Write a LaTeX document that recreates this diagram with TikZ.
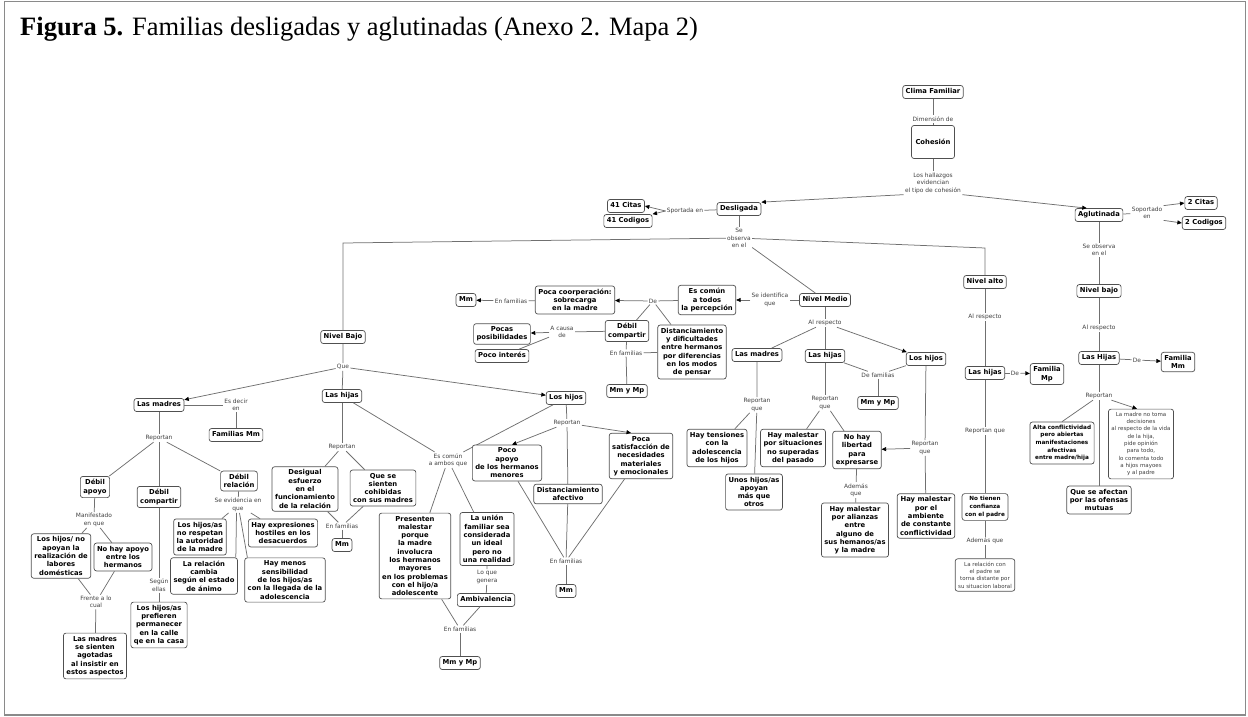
\documentclass[tikz,border=0pt]{standalone}
\usepackage{fontspec}
\setmainfont{Liberation Serif}
\newfontfamily\dvs{DejaVu Sans}
\usetikzlibrary{arrows.meta,calc}
\definecolor{boxc}{HTML}{505050}
\definecolor{linec}{HTML}{707070}
\definecolor{labc}{HTML}{404040}
\definecolor{framec}{HTML}{8A8A8A}
\tikzset{
 box/.style={draw=boxc, line width=0.7pt, rounded corners=2.5pt, fill=white, align=center,
   inner xsep=3pt, inner ysep=3pt, text=black, font=\dvs\bfseries\fontsize{6.8}{8.3}\selectfont},
 one/.style={box, text height=5.4pt, text depth=1.6pt},
 sbox/.style={box, font=\dvs\bfseries\fontsize{5.7}{7.6}\selectfont},
 rbox/.style={box, text=labc, font=\dvs\fontsize{5.5}{7.3}\selectfont},
 lbl/.style={font=\dvs\fontsize{5.9}{7.4}\selectfont, text=labc, align=center, inner sep=1.2pt},
 ln/.style={draw=linec, line width=0.75pt},
 ar/.style={ln, -{Triangle[length=4.5pt,width=4pt,color=black]}}
}
\begin{document}
\begin{tikzpicture}[x=1pt,y=-1pt]
\useasboundingbox (0,0) rectangle (1248,717);
\draw[framec, line width=1.6pt] (4.5,1.5) rectangle (1245.5,715);
\node[anchor=base west, inner sep=0, font=\fontsize{26.5}{30}\selectfont] (title) at (20,36)
  {\textbf{Figura 5.} Familias desligadas y aglutinadas (Anexo 2. Mapa 2)};

% ---------- top
\node[one] (clima) at (933,92) {Clima Familiar};
\node[lbl] (l_dim) at (933,119) {Dimensión de};
\node[box, minimum width=43pt, minimum height=33pt] (coh) at (933,142) {Cohesión};
\node[lbl] (l_hall) at (933,183) {Los hallazgos\\evidencian\\el tipo de cohesión};
\node[one] (desl) at (739,209) {Desligada};
\node[one] (aglu) at (1099,215) {Aglutinada};
\draw[ln] (clima) -- (l_dim) -- (coh) -- (l_hall);
\draw[ar] (l_hall.south west) -- (desl.north east);
\draw[ar] (l_hall.south east) -- ($(aglu.north west)+(12,0)$);

% Desligada supports
\node[lbl] (l_sport) at (685,211) {Sportada en};
\node[one] (cit41) at (626,206) {41 Citas};
\node[one] (cod41) at (628,221) {41 Codigos};
\draw[ln] (desl) -- (l_sport);
\draw[ar] (l_sport.west) -- (cit41.east);
\draw[ar] (l_sport.west) -- (cod41.north east);

% Aglutinada
\node[lbl] (l_sop) at (1147,213) {Soportado\\en};
\node[one] (cit2) at (1201,203) {2 Citas};
\node[one] (cod2) at (1204,223) {2 Codigos};
\draw[ln] (aglu) -- (l_sop);
\draw[ar] (l_sop.north east) -- (cit2.west);
\draw[ar] (l_sop.south east) -- (cod2.west);
\node[lbl] (l_seob2) at (1099,250) {Se observa\\en el};
\node[one] (nbajo2) at (1099,291) {Nivel bajo};
\node[lbl] (l_alr2) at (1099,328) {Al respecto};
\node[one] (hijas2) at (1099,358) {Las Hijas};
\node[lbl] (l_de2) at (1137,360) {De};
\node[box] (fmm2) at (1178,362) {Familia\\Mm};
\draw[ln] (aglu) -- (l_seob2) -- (nbajo2) -- (l_alr2) -- (hijas2);
\draw[ln] (hijas2) -- (l_de2);
\draw[ar] (l_de2) -- (fmm2);
\node[lbl] (l_rep2) at (1099,396) {Reportan};
\node[sbox] (alta) at (1062,443) {Alta conflictividad\\pero abiertas\\manifestaciones\\afectivas\\entre madre/hija};
\node[rbox] (madreno) at (1141,444) {La madre no toma\\decisiones\\al respecto de la vida\\de la hija,\\pide opinión\\para todo,\\lo comenta todo\\a hijos mayoes\\y al padre};
\node[box] (afectan) at (1099,500) {Que se afectan\\por las ofensas\\mutuas};
\draw[ln] (hijas2) -- (l_rep2) -- (afectan);
\draw[ln] (l_rep2) -- (alta.north);
\draw[ar] (l_rep2) -- ($(madreno.north)+(-4,0)$);

% Se observa (Desligada)
\node[lbl] (l_seob1) at (739,238) {Se\\observa\\en el};
\coordinate (cbajo) at (343,243);
\coordinate (calto) at (985,248);
\node[one] (nbajo1) at (343,337) {Nivel Bajo};
\node[one] (nmedio) at (825,300) {Nivel Medio};
\node[one] (nalto) at (985,282) {Nivel alto};
\draw[ln] (desl) -- (l_seob1);
\draw[ln] (l_seob1) -- (cbajo) -- (nbajo1);
\draw[ln] (l_seob1) -- (calto) -- (nalto);
\draw[ln] (l_seob1) -- (nmedio);

% Nivel alto
\node[lbl] (l_alr1) at (985,317) {Al respecto};
\node[one] (hijas1) at (985,373) {Las hijas};
\node[lbl] (l_de1) at (1015,373) {De};
\node[box] (fmp1) at (1047,374) {Familia\\Mp};
\node[lbl] (l_repq1) at (985,431) {Reportan que};
\node[sbox] (confi) at (985,507) {No tienen\\confianza\\con el padre};
\node[lbl] (l_adem1) at (985,541) {Además que};
\node[rbox] (relpadre) at (985,575) {La relación con\\el padre se\\torna distante por\\su situacion laboral};
\draw[ln] (nalto) -- (l_alr1) -- (hijas1);
\draw[ln] (hijas1) -- (l_de1);
\draw[ar] (l_de1) -- (fmp1);
\draw[ln] (hijas1) -- (l_repq1) -- (confi) -- (l_adem1) -- (relpadre);

% Nivel Medio
\node[lbl] (l_ident) at (770,300) {Se identifica\\que};
\node[box] (escomun) at (707,300) {Es común\\a todos\\la percepción};
\node[lbl] (l_de3) at (653,301) {De};
\node[box] (pococoop) at (575,300) {Poca coorperación:\\sobrecarga\\en la madre};
\node[lbl] (l_enf1) at (511,301) {En familias};
\node[one] (mm1) at (466,300) {Mm};
\node[box] (debcomp2) at (627,331) {Débil\\compartir};
\node[lbl] (l_causa) at (562,332) {A causa\\de};
\node[box] (pocas) at (502,334) {Pocas\\posibilidades};
\node[one] (pocoint) at (502,356) {Poco interés};
\node[lbl] (l_enf2) at (626,353) {En familias};
\node[one] (mmmp1) at (627,391) {Mm y Mp};
\node[box] (distan) at (692,352) {Distanciamiento\\y dificultades\\entre hermanos\\por diferencias\\en los modos\\de pensar};
\draw[ln] (nmedio) -- (l_ident);
\draw[ar] (l_ident) -- (escomun);
\draw[ln] (escomun) -- (l_de3);
\draw[ar] (l_de3) -- (pococoop);
\draw[ln] (l_de3) -- (debcomp2);
\draw[ln] (l_de3) -- (distan);
\draw[ln] (pococoop) -- (l_enf1);
\draw[ar] (l_enf1) -- (mm1);
\draw[ln] (debcomp2) -- (l_causa);
\draw[ar] (l_causa) -- (pocas);
\draw[ln] (l_causa) -- (pocoint);
\draw[ln] (debcomp2) -- (l_enf2) -- (mmmp1);
\draw[ln] (distan) -- (l_enf2);

\node[lbl] (l_alr3) at (825,323) {Al respecto};
\node[one] (madres3) at (757,355) {Las madres};
\node[one] (hijas3) at (825,356) {Las hijas};
\node[one] (hijos3) at (926,359) {Los hijos};
\draw[ln] (nmedio) -- (l_alr3);
\draw[ln] (l_alr3) -- (madres3);
\draw[ln] (l_alr3) -- (hijas3);
\draw[ar] (l_alr3) -- (hijos3);
\node[lbl] (l_fam3) at (878,375) {De familias};
\node[one] (mmmp3) at (878,403) {Mm y Mp};
\draw[ln] (hijas3) -- (l_fam3) -- (hijos3);
\draw[ln] (l_fam3) -- (mmmp3);

\node[lbl] (l_repq3) at (757,405) {Reportan\\que};
\node[box] (tension) at (717,448) {Hay tensiones\\con la\\adolescencia\\de los hijos};
\node[box] (unos) at (754,492) {Unos hijos/as\\apoyan\\más que\\otros};
\draw[ln] (madres3) -- (l_repq3) -- (unos);
\draw[ln] (l_repq3) -- (tension);

\node[lbl] (l_repq4) at (825,403) {Reportan\\que};
\node[box] (malsit) at (793,448) {Hay malestar\\por situaciones\\no superadas\\del pasado};
\node[box] (libertad) at (857,450) {No hay\\libertad\\para\\expresarse};
\draw[ln] (hijas3) -- (l_repq4);
\draw[ln] (l_repq4) -- (malsit);
\draw[ln] (l_repq4) -- (libertad);
\node[lbl] (l_repq5) at (925,448) {Reportan\\que};
\node[box] (ambiente) at (926,516) {Hay malestar\\por el\\ambiente\\de constante\\conflictividad};
\draw[ln] (hijos3) -- (l_repq5) -- (ambiente);
\draw[ar] (l_repq5) -- (libertad);
\node[lbl] (l_adem2) at (856,490) {Además\\que};
\node[box] (alianzas) at (855,530) {Hay malestar\\por alianzas\\entre\\alguno de\\sus hemanos/as\\y la madre};
\draw[ln] (libertad) -- (l_adem2) -- (alianzas);

% Nivel Bajo
\node[lbl] (l_que) at (343,367) {Que};
\node[one] (madres1) at (159,405) {Las madres};
\node[one] (hijas1b) at (342,396) {Las hijas};
\node[one] (hijos1) at (566,398) {Los hijos};
\draw[ln] (nbajo1) -- (l_que) -- (hijas1b);
\draw[ar] (l_que) -- (madres1);
\draw[ar] (l_que) -- (hijos1);

\node[lbl] (l_esdecir) at (236,405) {Es decir\\en};
\node[one] (fammm) at (236,435) {Familias Mm};
\draw[ln] (madres1) -- (l_esdecir) -- (fammm);

\node[lbl] (l_rep1) at (159,438) {Reportan};
\node[box] (debapoyo) at (95,487) {Débil\\apoyo};
\node[box] (debcomp1) at (159,497) {Débil\\compartir};
\node[box] (debrel) at (239,481) {Débil\\relación};
\draw[ln] (madres1) -- (l_rep1) -- (debcomp1);
\draw[ln] (l_rep1) -- (debapoyo);
\draw[ln] (l_rep1) -- (debrel);

\node[lbl] (l_manif) at (94,520) {Manifestado\\en que};
\node[box] (noapoyan) at (61,556) {Los hijos/ no\\apoyan la\\realización de\\labores\\domésticas};
\node[box] (noapoyo) at (123,557) {No hay apoyo\\entre los\\hermanos};
\draw[ln] (debapoyo) -- (l_manif);
\draw[ln] (l_manif) -- (noapoyan);
\draw[ln] (l_manif) -- (noapoyo);
\node[lbl] (l_frente) at (96,602) {Frente a lo\\cual};
\node[box] (agotadas) at (95,656) {Las madres\\se sienten\\agotadas\\al insistir en\\estos aspectos};
\draw[ln] (noapoyan) -- (l_frente);
\draw[ln] (noapoyo) -- (l_frente);
\draw[ln] (l_frente) -- (agotadas);

\node[lbl] (l_segun) at (159,585) {Según\\ellas};
\node[box] (prefieren) at (159,625) {Los hijos/as\\prefieren\\permanecer\\en la calle\\qe en la casa};
\draw[ln] (debcomp1) -- (l_segun) -- (prefieren);

\node[lbl] (l_evid) at (238,505) {Se evidencia en\\que};
\node[box] (respetan) at (200,537) {Los hijos/as\\no respetan\\la autoridad\\de la madre};
\node[box] (hostiles) at (283,533) {Hay expresiones\\hostiles en los\\desacuerdos};
\node[box] (cambia) at (204,576) {La relación\\cambia\\según el estado\\de ánimo};
\node[box] (sensib) at (285,580) {Hay menos\\sensibilidad\\de los hijos/as\\con la llegada de la\\adolescencia};
\draw[ln] (debrel) -- (l_evid);
\draw[ln] (l_evid) -- (respetan);
\draw[ln] (l_evid) -- (hostiles);
\draw[ln] ($(l_evid.south)+(-1.5,0)$) -- ($(cambia.north east)+(-2,0)$);
\draw[ln] ($(l_evid.south)+(1.5,0)$) -- ($(sensib.north west)+(3,0)$);

\node[lbl] (l_rep3) at (342,447) {Reportan};
\node[box] (desigual) at (305,489) {Desigual\\esfuerzo\\en el\\funcionamiento\\de la relación};
\node[box] (cohibidas) at (383,488) {Que se\\sienten\\cohibidas\\con sus madres};
\node[lbl] (l_enf3) at (342,526) {En familias};
\node[one] (mm3) at (342,545) {Mm};
\draw[ln] (hijas1b) -- (l_rep3);
\draw[ln] (l_rep3) -- (desigual);
\draw[ln] (l_rep3) -- (cohibidas);
\draw[ln] (desigual) -- (l_enf3);
\draw[ln] (cohibidas) -- (l_enf3);
\draw[ln] (l_enf3) -- (mm3);

\node[lbl] (l_ambos) at (448,460) {Es común\\a ambos que};
\draw[ln] (hijas1b) -- (l_ambos);
\draw[ln] (hijos1) -- (l_ambos);
\node[box] (presenten) at (415,556) {Presenten\\malestar\\porque\\la madre\\involucra\\los hermanos\\mayores\\en los problemas\\con el hijo/a\\adolescente};
\node[box] (union) at (487,539) {La unión\\familiar sea\\considerada\\un ideal\\pero no\\una realidad};
\draw[ln] (l_ambos) -- (presenten);
\draw[ln] (l_ambos) -- (union);
\node[lbl] (l_genera) at (487,577) {Lo que\\genera};
\node[one] (ambiv) at (486,600) {Ambivalencia};
\draw[ln] (union) -- (l_genera) -- (ambiv);
\node[lbl] (l_enf4) at (460,629) {En familias};
\node[one] (mmmp4) at (460,663) {Mm y Mp};
\draw[ln] (presenten) -- (l_enf4);
\draw[ln] (ambiv) -- (l_enf4);
\draw[ln] (l_enf4) -- (mmmp4);

\node[lbl] (l_rep4) at (567,423) {Reportan};
\node[box] (pocoapoyo) at (507,463) {Poco\\apoyo\\de los hermanos\\menores};
\node[box] (distafec) at (568,494) {Distanciamiento\\afectivo};
\node[box] (satisf) at (641,456) {Poca\\satisfacción de\\necesidades\\materiales\\y emocionales};
\draw[ln] (hijos1) -- (l_rep4) -- (distafec);
\draw[ar] (l_rep4) -- ($(pocoapoyo.north)+(5,0)$);
\draw[ar] (l_rep4) -- ($(satisf.north)+(-10,0)$);
\node[lbl] (l_enf5) at (566,561) {En familias};
\node[one] (mm5) at (566,591) {Mm};
\draw[ln] (pocoapoyo) -- (l_enf5);
\draw[ln] (distafec) -- (l_enf5);
\draw[ln] (satisf) -- (l_enf5);
\draw[ln] (l_enf5) -- (mm5);
\end{tikzpicture}
\end{document}
